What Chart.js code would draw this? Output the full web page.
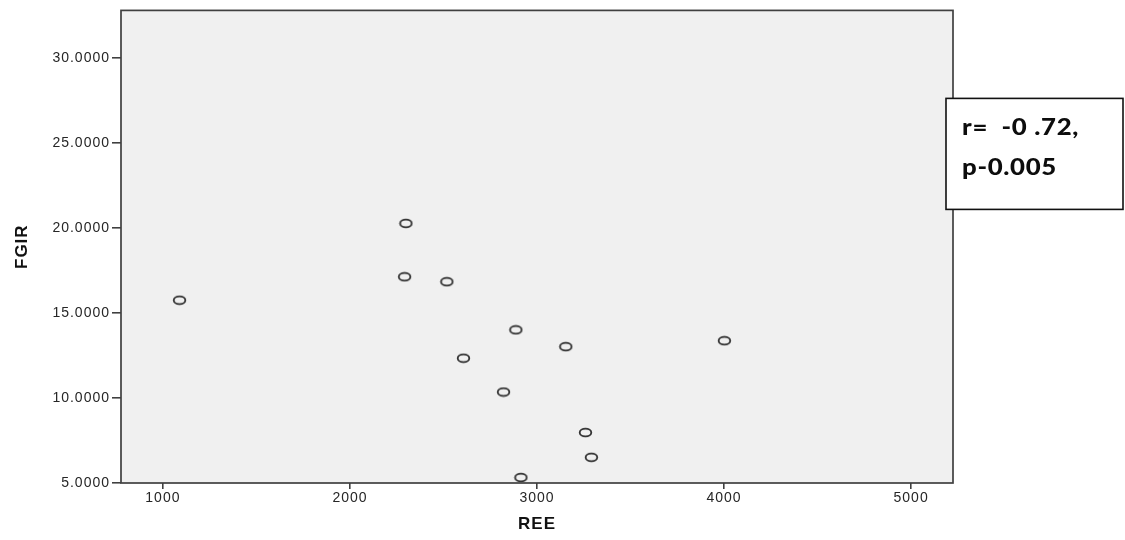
<!DOCTYPE html>
<html>
<head>
<meta charset="utf-8">
<title>FGIR vs REE</title>
<script src="https://cdn.jsdelivr.net/npm/chart.js@4.4.1/dist/chart.umd.min.js"></script>
<style>
  html, body { margin: 0; padding: 0; background: #ffffff; }
  #wrap { width: 1125px; height: 540px; position: relative; }
</style>
</head>
<body>
<div id="wrap"><canvas id="chart" width="1125" height="540"></canvas></div>
<script>
// Observations: resting energy expenditure (REE) against FGIR
const ree  = [1089, 2299, 2292, 2518, 2607, 2887, 3154, 2821, 4002, 3259, 3291, 2914];
const fgir = [15.75, 20.27, 17.13, 16.84, 12.34, 14.01, 13.02, 10.35, 13.37, 7.97, 6.51, 5.32];

// Axis ticks
const xTicks = [1000, 2000, 3000, 4000, 5000];
const xTickLabels = ['1000', '2000', '3000', '4000', '5000'];
const yTicks = [5, 10, 15, 20, 25, 30];
const yTickLabels = ['5.0000', '10.0000', '15.0000', '20.0000', '25.0000', '30.0000'];

// Axis extents
const xRange = [776, 5224];
const yRange = [5, 32.8];

// Correlation note
const noteLines = ['r=  -0 .72,', 'p-0.005'];

const points = ree.map((x, i) => ({ x: x, y: fgir[i] }));

// Hollow elliptical marker
function makeMarker() {
  const c = document.createElement('canvas');
  c.width = 15; c.height = 11;
  const g = c.getContext('2d');
  g.strokeStyle = '#303030';
  g.lineWidth = 1.8;
  g.beginPath();
  g.ellipse(7.5, 5.5, 5.8, 3.9, 0, 0, Math.PI * 2);
  g.stroke();
  return c;
}

function labelFor(values, labels) {
  return v => { const i = values.indexOf(v); return i >= 0 ? labels[i] : ''; };
}

const plotFrame = {
  id: 'plotFrame',
  beforeDraw(chart) {
    const { ctx, chartArea: a } = chart;
    ctx.letterSpacing = '1px';
    ctx.save();
    ctx.fillStyle = '#f0f0f0';
    ctx.fillRect(a.left, a.top, a.right - a.left, a.bottom - a.top);
    ctx.restore();
  },
  afterDatasetsDraw(chart) {
    const { ctx, chartArea: a } = chart;
    ctx.save();
    ctx.strokeStyle = '#404040';
    ctx.lineWidth = 1.7;
    ctx.strokeRect(a.left, a.top, a.right - a.left, a.bottom - a.top);
    ctx.restore();
  },
  afterDraw(chart) {
    const { ctx, chartArea: a } = chart;
    const bx = a.right - 7, by = a.top + 88, bw = 177, bh = 111;
    ctx.save();
    ctx.fillStyle = '#ffffff';
    ctx.fillRect(bx, by, bw, bh);
    ctx.strokeStyle = '#111111';
    ctx.lineWidth = 1.6;
    ctx.strokeRect(bx, by, bw, bh);
    // note text, slightly widened
    ctx.translate(bx + 16, by);
    ctx.scale(1.12, 1);
    ctx.fillStyle = '#0d0d0d';
    ctx.letterSpacing = '0.6px';
    ctx.font = '900 23px Lato, "Open Sans", sans-serif';
    ctx.textBaseline = 'middle';
    ctx.textAlign = 'left';
    noteLines.forEach((t, i) => ctx.fillText(t, 0, 29 + i * 40));
    ctx.restore();
  }
};

const tickFont = { family: 'Liberation Sans, Arial, sans-serif', size: 14 };
const titleFont = { family: 'Liberation Sans, Arial, sans-serif', size: 17, weight: 'bold' };

new Chart(document.getElementById('chart'), {
  type: 'scatter',
  data: {
    datasets: [{
      data: points,
      pointStyle: makeMarker(),
      pointRadius: 5,
      pointHoverRadius: 5,
      clip: false
    }]
  },
  options: {
    responsive: false,
    animation: false,
    events: [],
    layout: { padding: { left: 0, top: 9, right: 172, bottom: 0 } },
    plugins: { legend: { display: false }, tooltip: { enabled: false } },
    scales: {
      x: {
        type: 'linear',
        min: xRange[0],
        max: xRange[1],
        afterBuildTicks: s => { s.ticks = xTicks.map(v => ({ value: v })); },
        afterFit: s => { s.height = 57; },
        border: { display: false },
        grid: { drawOnChartArea: false, drawTicks: true, tickLength: 6, color: '#404040', lineWidth: 1.6 },
        ticks: { color: '#262626', font: tickFont, padding: 1, maxRotation: 0, callback: labelFor(xTicks, xTickLabels) },
        title: { display: true, text: 'REE', color: '#111111', font: titleFont, padding: { top: 0, bottom: 5 } }
      },
      y: {
        type: 'linear',
        min: yRange[0],
        max: yRange[1],
        afterBuildTicks: s => { s.ticks = yTicks.map(v => ({ value: v })); },
        afterFit: s => { s.width = 121; },
        border: { display: false },
        grid: { drawOnChartArea: false, drawTicks: true, tickLength: 9, color: '#404040', lineWidth: 1.6 },
        ticks: { color: '#262626', font: tickFont, padding: 2, callback: labelFor(yTicks, yTickLabels) },
        title: { display: true, text: 'FGIR', color: '#111111', font: titleFont, padding: { top: 12, bottom: 0 } }
      }
    }
  },
  plugins: [plotFrame]
});
</script>
</body>
</html>
